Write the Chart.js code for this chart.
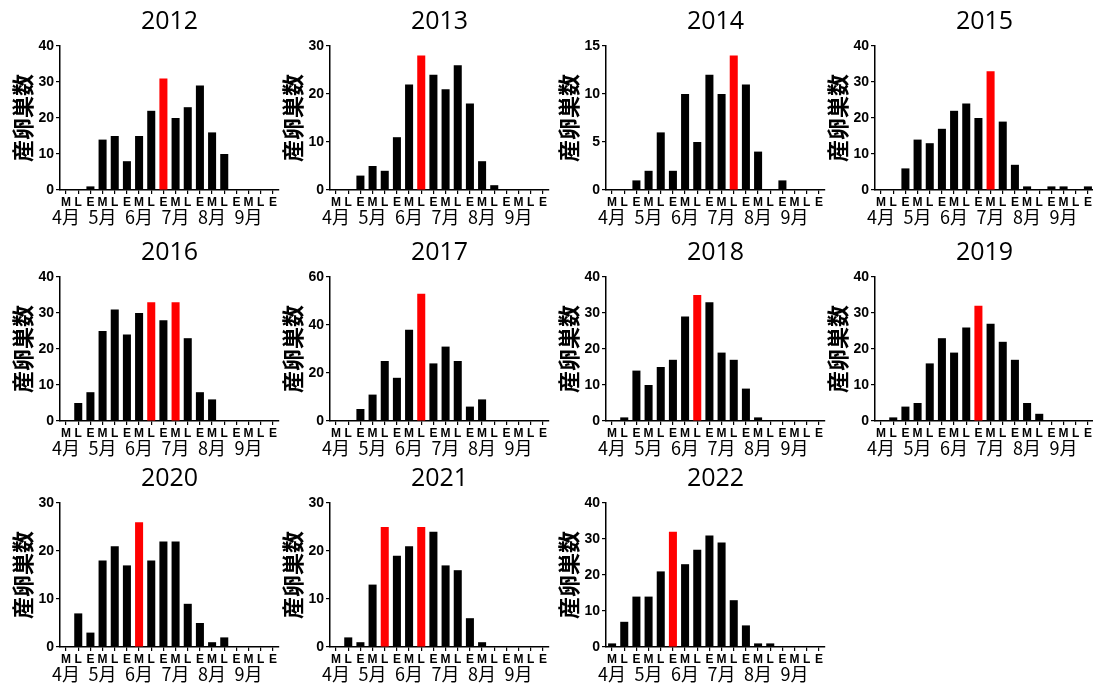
<!DOCTYPE html>
<html lang="ja">
<head>
<meta charset="utf-8">
<title>産卵巣数 2012-2022</title>
<script src="https://cdn.jsdelivr.net/npm/chart.js@4.4.1/dist/chart.umd.min.js"></script>
<style>
  html, body { margin: 0; padding: 0; background: #fff; }
  body { width: 1093px; height: 692px; position: relative; overflow: hidden; }
  canvas { position: absolute; }
</style>
</head>
<body>
<script>
// semanas: M = mediados, L = finales, E = principios
const periods = ['M','L','E','M','L','E','M','L','E','M','L','E','M','L','E','M','L','E'];
const monthTicks = ['4月','','','5月','','','6月','','','7月','','','8月','','','9月','',''];

const years = ['2012','2013','2014','2015','2016','2017','2018','2019','2020','2021','2022'];

const nests2012 = [0,0,1,14,15,8,15,22,31,20,23,29,16,10,0,0,0,0];
const nests2013 = [0,0,3,5,4,11,22,28,24,21,26,18,6,1,0,0,0,0];
const nests2014 = [0,0,1,2,6,2,10,5,12,10,14,11,4,0,1,0,0,0];
const nests2015 = [0,0,6,14,13,17,22,24,20,33,19,7,1,0,1,1,0,1];
const nests2016 = [0,5,8,25,31,24,30,33,28,33,23,8,6,0,0,0,0,0];
const nests2017 = [0,0,5,11,25,18,38,53,24,31,25,6,9,0,0,0,0,0];
const nests2018 = [0,1,14,10,15,17,29,35,33,19,17,9,1,0,0,0,0,0];
const nests2019 = [0,1,4,5,16,23,19,26,32,27,22,17,5,2,0,0,0,0];
const nests2020 = [0,7,3,18,21,17,26,18,22,22,9,5,1,2,0,0,0,0];
const nests2021 = [0,2,1,13,25,19,21,25,24,17,16,6,1,0,0,0,0,0];
const nests2022 = [1,7,14,14,21,32,23,27,31,29,13,6,1,1,0,0,0,0];

// barras en rojo (pico de cada año)
const peak2012 = [8];
const peak2013 = [7];
const peak2014 = [10];
const peak2015 = [9];
const peak2016 = [7, 9];
const peak2017 = [7];
const peak2018 = [7];
const peak2019 = [8];
const peak2020 = [6];
const peak2021 = [4, 7];
const peak2022 = [5];

const yMax  = [40, 30, 15, 40, 40, 60, 40, 40, 30, 30, 40];
const yStep = [10, 10, 5, 10, 10, 20, 10, 10, 10, 10, 10];

const allNests = [nests2012, nests2013, nests2014, nests2015, nests2016, nests2017,
                  nests2018, nests2019, nests2020, nests2021, nests2022];
const allPeaks = [peak2012, peak2013, peak2014, peak2015, peak2016, peak2017,
                  peak2018, peak2019, peak2020, peak2021, peak2022];

// posición de cada panel
const colLeft = [0, 270, 546, 815];
const rowTop = [0, 231, 457];

const tickFont = { family: '"Liberation Sans", Arial, sans-serif', weight: 'bold' };

// año arriba y meses debajo del eje
const extraTexts = {
  id: 'extraTexts',
  afterDraw(chart, args, opts) {
    const { ctx, chartArea, scales } = chart;
    ctx.save();
    ctx.fillStyle = '#000';
    ctx.textAlign = 'center';
    ctx.textBaseline = 'middle';
    ctx.font = '25px "Open Sans", sans-serif';
    ctx.fillText(opts.year, (chartArea.left + chartArea.right) / 2, 22);
    ctx.font = '18px "Noto Sans CJK JP", sans-serif';
    monthTicks.forEach((m, i) => {
      if (m) ctx.fillText(m, scales.x.getPixelForValue(i), chartArea.bottom + 27);
    });
    ctx.restore();
  }
};

years.forEach((year, i) => {
  const canvas = document.createElement('canvas');
  canvas.width = 281;
  canvas.height = 230;
  canvas.style.left = colLeft[i % 4] + 'px';
  canvas.style.top = rowTop[Math.floor(i / 4)] + 'px';
  document.body.appendChild(canvas);

  const values = allNests[i];
  const colors = values.map((v, k) => allPeaks[i].includes(k) ? '#ff0000' : '#000000');

  new Chart(canvas, {
    type: 'bar',
    data: {
      labels: periods,
      datasets: [{
        data: values,
        backgroundColor: colors,
        barPercentage: 0.66,
        categoryPercentage: 1
      }]
    },
    options: {
      responsive: false,
      animation: false,
      layout: { padding: { top: 46, right: 2, left: 0, bottom: 0 } },
      plugins: {
        legend: { display: false },
        tooltip: { enabled: false },
        extraTexts: { year: year }
      },
      scales: {
        x: {
          offset: true,
          grid: { offset: false, drawOnChartArea: false, tickLength: 4, color: '#000', lineWidth: 1.2 },
          border: { color: '#000', width: 1.5 },
          ticks: {
            autoSkip: false, maxRotation: 0, minRotation: 0, padding: 1,
            color: '#000', font: { ...tickFont, size: 12 }
          },
          afterFit: (s) => { s.height = 40; }
        },
        y: {
          min: 0,
          max: yMax[i],
          grid: { drawOnChartArea: false, tickLength: 4, color: '#000', lineWidth: 1.2 },
          border: { color: '#000', width: 1.5 },
          ticks: { stepSize: yStep[i], padding: 2, color: '#000', font: { ...tickFont, size: 14 } },
          title: {
            display: true,
            text: '産卵巣数',
            color: '#000',
            font: { family: '"Noto Sans CJK JP", sans-serif', size: 22, weight: 'bold' },
            padding: { top: 9, bottom: 0 }
          },
          afterFit: (s) => { s.width = 60; }
        }
      }
    },
    plugins: [extraTexts]
  });
});
</script>
</body>
</html>
